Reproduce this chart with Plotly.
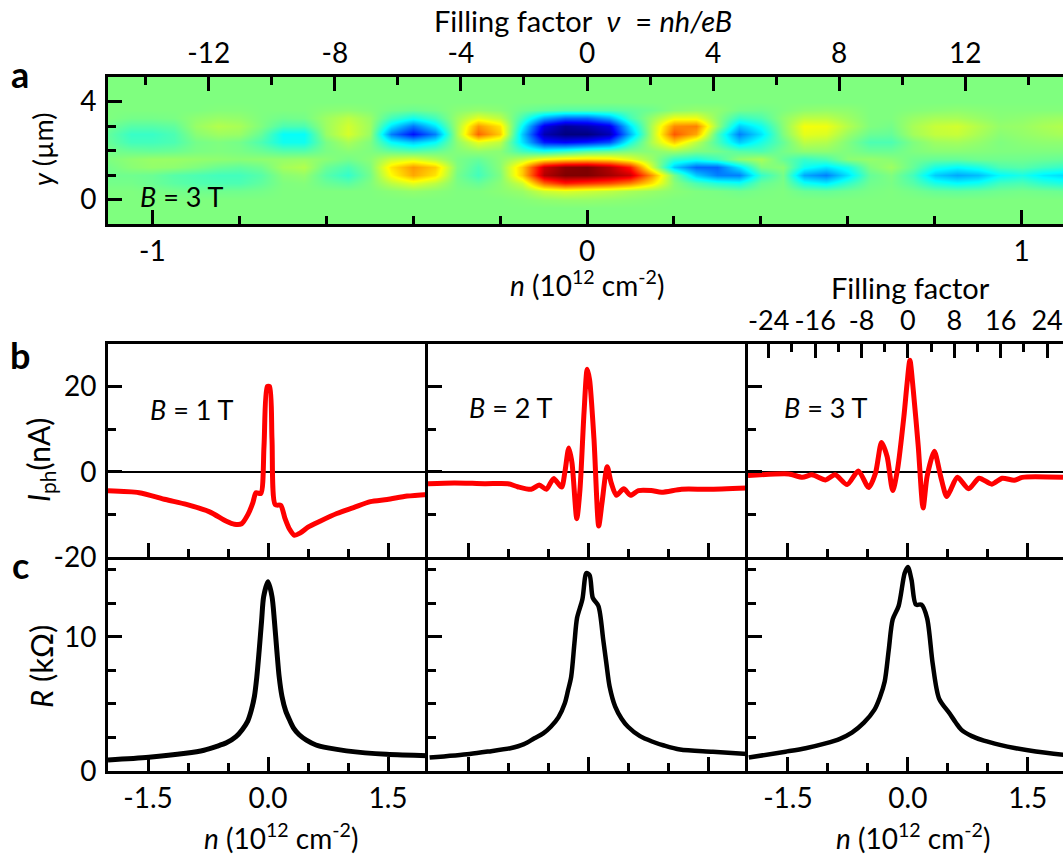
import plotly.graph_objects as go

FONT = "Lato"
W, H = 1063, 855

# ---------- panel a: photocurrent map (normalised, jet) ----------
map_n = [-1.10,-1.05,-1.00,-0.95,-0.90,-0.85,-0.80,-0.75,-0.70,-0.65,-0.60,-0.55,-0.50,-0.45,-0.40,
         -0.35,-0.30,-0.25,-0.20,-0.15,-0.10,-0.05,0.00,0.05,0.10,0.15,0.20,0.25,0.30,0.35,0.40,
         0.45,0.50,0.55,0.60,0.65,0.70,0.75,0.80,0.85,0.90,0.95,1.00,1.05,1.10]
map_y = [-1.0,-0.67,-0.33,0.0,0.33,0.67,1.0,1.33,1.67,2.0,2.33,2.67,3.0,3.33,3.67,4.0,4.33,4.67,5.0]
blank = [0.0]*45
r_000 = [0,0,0,0,0,0,0,0,0,0,0,0,0,0,0,0,0,0,0,.01,.03,.04,.04,.03,.02,.01,0,0,0,0,0,0,0,0,0,0,0,0,0,0,0,0,0,0,0]
r_033 = [0,0,-.01,-.02,-.03,-.03,-.03,-.02,0,0,0,0,0,.02,.04,.02,0,0,.02,.05,.15,.18,.15,.12,.08,.05,.02,0,-.01,-.03,-.01,0,-.04,-.05,-.03,-.01,0,-.02,-.05,-.06,-.05,-.03,-.02,-.03,-.04]
r_067 = [-.02,-.02,-.04,-.07,-.09,-.1,-.1,-.06,0,.01,-.04,-.07,0,.12,.2,.12,-.01,-.05,.02,.15,.55,.7,.65,.6,.5,.3,.02,-.1,-.18,-.22,-.05,-.01,-.22,-.28,-.15,-.03,-.01,-.08,-.2,-.25,-.22,-.12,-.1,-.16,-.2]
r_100 = [-.03,-.03,-.04,-.08,-.1,-.12,-.12,-.08,.02,.04,-.08,-.15,-.02,.25,.42,.3,-.02,-.12,0,.35,.9,1,1,.93,.85,.45,-.02,-.35,-.5,-.5,-.15,-.02,-.42,-.5,-.3,-.05,0,-.12,-.35,-.42,-.38,-.25,-.2,-.28,-.32]
r_133 = [-.02,.02,.04,.03,0,-.04,-.06,-.03,.07,.1,-.04,-.1,0,.3,.45,.35,0,-.1,.02,.35,.85,.98,1,.9,.7,.15,-.35,-.55,-.55,-.3,0,.02,-.22,-.3,-.2,0,.06,-.05,-.2,-.25,-.2,-.1,-.08,-.12,-.15]
r_167 = [0,.03,.05,.05,.04,.03,.02,.03,.04,.05,.02,-.02,.02,.14,.18,.1,-.01,-.05,.02,.12,.25,.3,.32,.3,.2,.05,-.15,-.2,-.12,.03,.08,-.05,-.14,-.1,.02,.04,.02,-.03,-.05,-.05,-.03,-.03,-.03,-.04,-.05]
r_200 = [-.02,-.04,-.05,-.04,-.01,0,-.01,-.04,-.08,-.08,-.01,.02,0,-.05,-.08,-.05,.01,.04,.02,-.12,-.2,-.15,-.08,-.05,0,.02,.06,0,-.02,-.08,-.1,-.02,.03,.03,0,-.04,-.04,0,.02,.02,.01,0,0,0,0]
r_233 = [-.05,-.12,-.12,-.1,-.02,0,-.02,-.1,-.22,-.22,-.01,.08,0,-.25,-.35,-.25,.03,.2,.12,-.3,-.7,-.75,-.7,-.6,-.2,.1,.35,.12,-.1,-.35,-.2,-.05,.12,.1,0,-.1,-.1,0,.06,.07,.04,0,.02,.03,.03]
r_267 = [-.06,-.14,-.14,-.1,.02,.06,.05,-.05,-.24,-.24,.05,.17,.05,-.5,-.72,-.5,.08,.55,.35,-.35,-.9,-1,-1,-.9,-.4,.1,.58,.42,-.1,-.5,-.3,0,.2,.18,.05,-.04,-.05,.07,.13,.14,.08,.02,.04,.06,.08]
r_300 = [-.03,-.08,-.08,-.06,.05,.1,.08,0,-.1,-.1,.06,.16,.06,-.3,-.52,-.3,.08,.45,.3,-.25,-.8,-.95,-.9,-.8,-.3,.1,.48,.5,.05,-.35,-.22,.02,.23,.22,.1,0,-.02,.08,.14,.16,.1,.04,.05,.08,.1]
r_333 = [0,-.02,-.02,-.01,.03,.05,.04,0,-.03,-.02,.06,.12,.05,-.12,-.22,-.12,.06,.2,.12,-.12,-.42,-.55,-.55,-.42,-.12,.05,.22,.22,.03,-.15,-.1,.03,.12,.12,.06,0,0,.05,.08,.08,.05,.02,.03,.05,.06]
r_367 = [0,0,0,0,0,.01,.01,0,0,0,.02,.03,.01,-.02,-.04,-.02,.02,.04,.02,-.03,-.06,-.08,-.08,-.08,-.06,-.03,.02,.04,.03,-.02,-.03,0,.03,.04,.03,0,0,.01,.02,.03,.02,.01,.01,.01,.01]
map_z = [blank, blank, blank, r_000, r_033, r_067, r_100, r_133, r_167, r_200, r_233, r_267, r_300, r_333, r_367, blank, blank, blank, blank]
jet = [[0,"#00007f"],[0.125,"#0000ff"],[0.375,"#00ffff"],[0.5,"#7fff7f"],[0.625,"#ffff00"],[0.875,"#ff0000"],[1,"#7f0000"]]

# ---------- panel b: photocurrent (nA) ----------
b1_n = [-2,-1.61,-1.28,-1.02,-0.73,-0.52,-0.42,-0.33,-0.25,-0.19,-0.15,-0.09,-0.05,-0.01,0.02,0.05,0.09,0.16,0.21,0.27,0.33,0.40,0.5,0.65,0.86,1.07,1.28,1.49,1.74,2.0]
b1_i = [-4.45,-4.9,-6.5,-7.65,-9.4,-11.6,-12.3,-12.2,-10,-7.3,-4.9,-5.1,6,20,20,7.6,-7.7,-7.9,-10.8,-13.5,-14.9,-14.4,-13,-11.6,-9.8,-8.4,-7,-6.5,-5.7,-5.3]
b2_n = [-2.0,-1.67,-1.29,-1.0,-0.88,-0.71,-0.61,-0.52,-0.43,-0.33,-0.29,-0.24,-0.2,-0.14,-0.10,-0.05,-0.01,0.02,0.075,0.134,0.175,0.24,0.29,0.355,0.447,0.53,0.63,0.79,0.92,1.17,1.5,1.98]
b2_i = [-2.8,-2.6,-2.8,-2.8,-3.5,-4.1,-3.1,-4.1,-1.6,-3.6,-0.2,5.6,2.1,-11,-4.1,13.8,24.1,21.6,7.6,-12.7,-7.3,1.2,-2.6,-5.5,-4,-5.5,-4.4,-4.4,-4.8,-4.1,-4.1,-3.8]
b3_n = [-2,-1.49,-1.32,-1.2,-1.03,-0.91,-0.76,-0.62,-0.49,-0.405,-0.33,-0.26,-0.19,-0.13,-0.05,-0.01,0.025,0.067,0.13,0.19,0.24,0.33,0.41,0.485,0.535,0.62,0.76,0.89,1.05,1.18,1.33,1.43,1.94]
b3_i = [-0.9,-0.5,-1.3,-0.7,-1.9,-0.7,-3,0.2,-3.7,-0.3,6.9,3.6,-4.4,0.5,13,20.8,26.2,19.2,5.9,-8.5,-1.1,4.8,-1.1,-5.8,-4.2,-1.3,-4,-1.5,-2.9,-1.5,-2,-1.3,-1.3]

# ---------- panel c: resistance (kOhm) ----------
c1_n = [-2,-1.49,-1.03,-0.8,-0.65,-0.52,-0.4,-0.32,-0.255,-0.21,-0.17,-0.14,-0.11,-0.08,-0.054,0,0.05,0.08,0.11,0.14,0.175,0.22,0.27,0.32,0.39,0.48,0.6,0.75,0.98,1.48,2.0]
c1_r = [0.82,1.02,1.32,1.55,1.82,2.1,2.56,3.1,3.7,4.5,5.55,7,9.0,11.2,13,14.1,13,11.2,9.0,7,5.55,4.5,3.8,3.2,2.7,2.3,1.94,1.72,1.5,1.24,1.14]
c2_n = [-1.98,-1.48,-1.25,-0.97,-0.8,-0.67,-0.56,-0.465,-0.37,-0.29,-0.25,-0.21,-0.17,-0.137,-0.07,-0.02,0.02,0.06,0.13,0.19,0.23,0.27,0.34,0.42,0.5,0.65,0.8,0.95,1.15,1.56,1.99]
c2_r = [1.0,1.27,1.45,1.7,2.0,2.44,2.8,3.3,4.0,5.05,6,7.04,9.5,11.4,12.8,14.75,14.6,12.9,12.3,9.8,8,6.3,4.8,3.9,3.3,2.6,2.2,1.9,1.6,1.44,1.27]
c3_n = [-1.99,-1.53,-1.28,-1.03,-0.85,-0.7,-0.55,-0.42,-0.35,-0.29,-0.24,-0.19,-0.116,-0.04,0,0.045,0.1,0.17,0.24,0.31,0.39,0.52,0.6,0.67,0.8,0.95,1.15,1.35,1.6,1.95]
c3_r = [1.0,1.44,1.7,2.06,2.4,2.86,3.6,4.55,5.5,6.67,9,11.3,12.3,14.75,15.2,14.25,12.4,12.4,11.4,8.0,5.4,4.3,3.6,3.06,2.6,2.26,1.95,1.7,1.45,1.2]

# ---------- ticks ----------
a_n_major = [-1,0,1]; a_n_text = ["-1","0","1"]
a_n_minor = [-1.0,-0.8,-0.6,-0.4,-0.2,0,0.2,0.4,0.6,0.8,1.0]
a_nu_major = [-12,-8,-4,0,4,8,12]; a_nu_text = ["-12","-8","-4","0","4","8","12"]
a_nu_minor = [-14,-10,-6,-2,2,6,10,14]
a_y_major = [0,4]; a_y_minor = [1,2,3]
n_major = [-1.5,0,1.5]; n_text = ["-1.5","0.0","1.5"]
n_minor = [-1.0,-0.5,0.5,1.0]
b_major = [-20,0,20]; b_text = ["-20","0","20"]; b_minor = [-10,10]
c_major = [0,10]; c_text = ["0","10"]; c_minor = [2.5,5,7.5,12.5,15]
nu3_major = [-24,-16,-8,0,8,16,24]; nu3_text = ["-24","-16","-8","0","8","16","24"]
nu3_minor = [-20,-12,-4,4,12,20]

def dx(a, b): return [a/W, b/W]
def dy(top, bottom): return [1-bottom/H, 1-top/H]
TICKFONT = dict(family=FONT, size=28, color="black")
LW = 3

def axis(major, text, minor, rng, **kw):
    d = dict(range=rng, tickmode="array", tickvals=major, ticktext=text, automargin=False,
             ticks="inside", ticklen=14, tickwidth=2.5, tickcolor="black",
             showline=True, linecolor="black", linewidth=LW, showgrid=False, zeroline=False,
             tickfont=TICKFONT, ticklabelstandoff=3,
             minor=dict(tickmode="array", tickvals=minor, ticks="inside", ticklen=8,
                        tickwidth=2.5, tickcolor="black", showgrid=False))
    d.update(kw)
    return d

fig = go.Figure()
fig.add_trace(go.Heatmap(x=map_n, y=map_y, z=map_z, colorscale=jet, zmin=-1, zmax=1,
                         zsmooth="best", showscale=False, xaxis="x", yaxis="y", hoverinfo="skip"))
fig.add_trace(go.Scatter(x=[], y=[], xaxis="x2", yaxis="y", showlegend=False, hoverinfo="skip"))

red = dict(color="#ff0000", width=5, shape="spline", smoothing=0.7)
blk = dict(color="#000000", width=5, shape="spline", smoothing=0.8)
blk2 = dict(color="#000000", width=4.5, shape="spline", smoothing=0.8)
for xa, ya, xs, ys, ln in [("x3","y3",b1_n,b1_i,red),("x4","y4",b2_n,b2_i,red),("x5","y5",b3_n,b3_i,red),
                           ("x6","y6",c1_n,c1_r,blk),("x7","y7",c2_n,c2_r,blk2),("x8","y8",c3_n,c3_r,blk2)]:
    fig.add_trace(go.Scatter(x=xs, y=ys, mode="lines", line=ln, xaxis=xa, yaxis=ya, showlegend=False))
fig.add_trace(go.Scatter(x=[], y=[], xaxis="x9", yaxis="y5", showlegend=False, hoverinfo="skip"))

AR, TOP_A, BOT_A = [-1.102,1.095], 77, 224
TB, MID, BC = 344, 557, 771
X1, X2, X3 = (108,428), (428,748), (748,1063)
R3 = [-2,1.94]; R = [-2,2]
NU_PER_N = 13.79

layout = dict(width=W, height=H, margin=dict(l=0,r=0,t=0,b=0), paper_bgcolor="white", plot_bgcolor="white",
              showlegend=False, font=dict(family=FONT, color="black"))
layout["xaxis"] = axis(a_n_major, a_n_text, a_n_minor, AR, domain=dx(108,W), anchor="y", side="bottom", ticklabelstandoff=0)
layout["xaxis2"] = axis(a_nu_major, a_nu_text, a_nu_minor, [AR[0]*NU_PER_N, AR[1]*NU_PER_N],
                        domain=dx(108,W), anchor="y", overlaying="x", side="top", ticklabelstandoff=0)
layout["yaxis"] = axis(a_y_major, ["0","4"], a_y_minor, [-1,5], domain=dy(TOP_A,BOT_A), anchor="x")

for i,(xd,rg) in enumerate([(X1,R),(X2,R),(X3,R3)]):
    layout[f"xaxis{3+i}"] = axis(n_major, ["","",""], n_minor, rg, domain=dx(*xd), anchor=f"y{3+i}",
                                 showticklabels=False, mirror=True)
    layout[f"yaxis{3+i}"] = axis(b_major, b_text, b_minor, [-20,30], domain=dy(TB,MID), anchor=f"x{3+i}",
                                 showticklabels=(i==0), zeroline=True, zerolinecolor="black", zerolinewidth=1.5)
for i,(xd,rg,lab) in enumerate([(X1,R,True),(X2,R,False),(X3,R3,True)]):
    layout[f"xaxis{6+i}"] = axis(n_major, n_text, n_minor, rg, domain=dx(*xd), anchor=f"y{6+i}", showticklabels=lab, ticklabelstandoff=0)
    layout[f"yaxis{6+i}"] = axis(c_major, c_text, c_minor, [0,15.95], domain=dy(MID,BC), anchor=f"x{6+i}", showticklabels=(i==0))
layout["xaxis9"] = axis(nu3_major, nu3_text, nu3_minor, [R3[0]*NU_PER_N, R3[1]*NU_PER_N],
                        domain=dx(*X3), anchor="y5", overlaying="x5", side="top", ticklabelstandoff=0,
                        tickfont=dict(family=FONT, size=27, color="black"))

def note(text, x, y, size=25, angle=0, xanchor="center"):
    return dict(text=text, x=x/W, y=1-y/H, xref="paper", yref="paper", showarrow=False, textangle=angle,
                xanchor=xanchor, yanchor="middle", font=dict(family=FONT, size=size, color="black"))

N_LABEL = "<i>n</i> (10<sup>12</sup> cm<sup>-2</sup>)"
layout["annotations"] = [
    note("<b>a</b>", 20, 74, 36), note("<b>b</b>", 20, 355, 36), note("<b>c</b>", 20, 565, 36),
    note("Filling factor  <i>ν</i>  = <i>nh/eB</i>", 583, 21, 29),
    note("<i>y</i> (µm)", 42, 149, 27, -90),
    note("<i>B</i> = 3 T", 138, 197, 27, xanchor="left"),
    note(N_LABEL, 587, 283, 28),
    note("Filling factor", 910, 288, 29),
    note("<i>B</i> = 1 T", 148, 409, 27, xanchor="left"),
    note("<i>B</i> = 2 T", 467, 408, 27, xanchor="left"),
    note("<i>B</i> = 3 T", 782, 408, 27, xanchor="left"),
    note("<i>I</i><sub>ph</sub>(nA)", 40, 460, 30, -90),
    note("<i>R</i> (kΩ)", 41, 667, 31, -90),
    note(N_LABEL, 281, 836, 28),
    note(N_LABEL, 913, 836, 28),
]
fig.update_layout(**layout)

for name, row in [("r_000",r_000),("r_033",r_033),("r_067",r_067),("r_100",r_100),("r_133",r_133),("r_167",r_167),
                  ("r_200",r_200),("r_233",r_233),("r_267",r_267),("r_300",r_300),("r_333",r_333),("r_367",r_367)]:
    assert len(row) == 45, (name, len(row))

fig.write_html("out.html", config=dict(displayModeBar=False),
               post_script="document.body.style.margin='0';document.documentElement.style.overflow='hidden';")
